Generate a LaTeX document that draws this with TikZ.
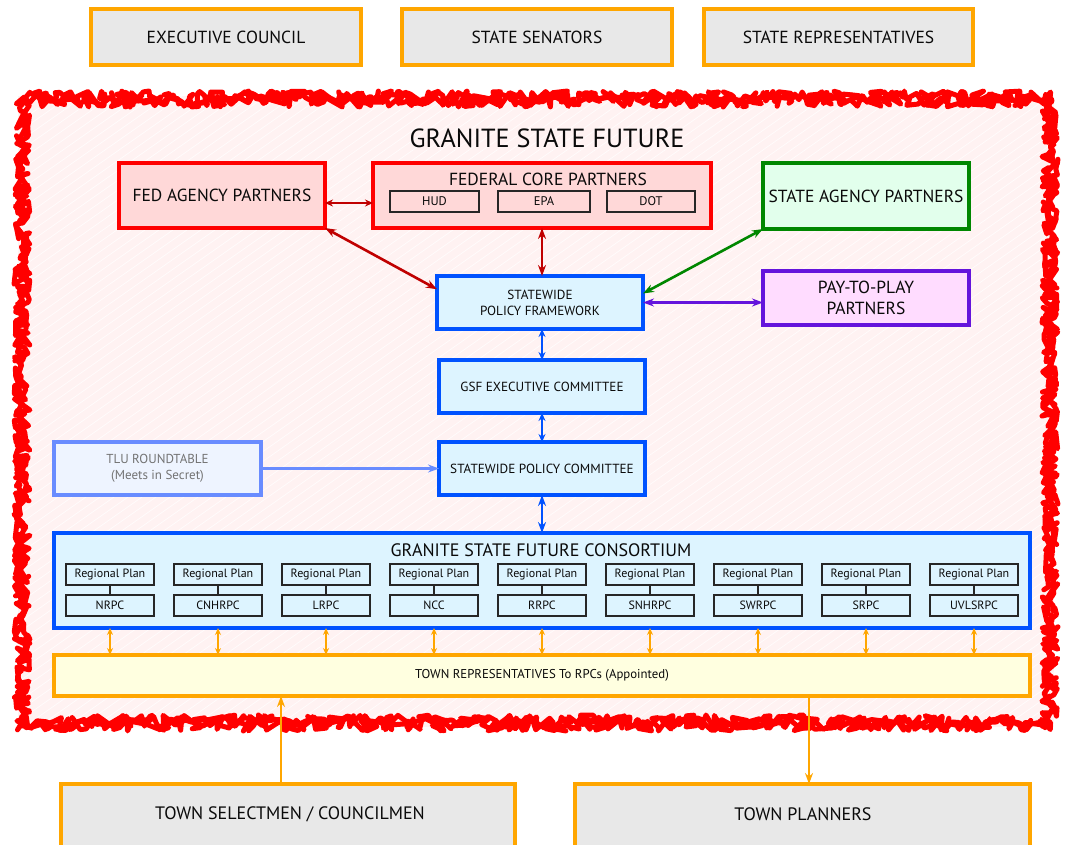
\documentclass[tikz,border=0pt]{standalone}
\usepackage{fontspec}
\setmainfont{PT Sans}
\usetikzlibrary{arrows.meta,decorations.pathmorphing,calc}
\definecolor{orgc}{RGB}{255,166,0}
\definecolor{greyc}{RGB}{232,232,232}
\definecolor{redc}{RGB}{255,0,0}
\definecolor{redfill}{RGB}{255,216,216}
\definecolor{darkred}{RGB}{192,0,0}
\definecolor{greenc}{RGB}{0,135,0}
\definecolor{greenfill}{RGB}{226,255,236}
\definecolor{purplec}{RGB}{100,20,220}
\definecolor{purplefill}{RGB}{255,220,255}
\definecolor{bluec}{RGB}{0,82,255}
\definecolor{bluefill}{RGB}{221,244,255}
\definecolor{lbluec}{RGB}{105,140,255}
\definecolor{lbluefill}{RGB}{238,244,255}
\definecolor{yelfill}{RGB}{255,255,224}
\definecolor{pinkbg}{RGB}{255,242,242}
\definecolor{txt}{RGB}{10,10,10}
\tikzset{
  base/.style={inner sep=0pt, outer sep=0pt, align=center, text=txt},
  topbox/.style={base, draw=orgc, fill=greyc, line width=3.3pt, font=\fontsize{17.5}{20}\selectfont},
  redbox/.style={base, draw=redc, fill=redfill, line width=3.3pt, font=\fontsize{17.5}{20}\selectfont},
  subbox/.style={base, draw=black!85, line width=1.5pt, font=\fontsize{12.5}{14}\selectfont},
  greenbox/.style={base, draw=greenc, fill=greenfill, line width=3.3pt, font=\fontsize{17.5}{20}\selectfont},
  purplebox/.style={base, draw=purplec, fill=purplefill, line width=3.3pt, font=\fontsize{17.5}{21}\selectfont},
  bluebox/.style={base, draw=bluec, fill=bluefill, line width=3.3pt, font=\fontsize{13.2}{16}\selectfont},
  tlubox/.style={base, draw=lbluec, fill=lbluefill, line width=3.3pt, text=black!55, font=\fontsize{13}{16}\selectfont},
  rpbox/.style={base, draw=black!85, line width=1.5pt, fill=bluefill, font=\fontsize{12}{13}\selectfont},
  yelbox/.style={base, draw=orgc, fill=yelfill, line width=3.3pt, font=\fontsize{12.8}{13}\selectfont},
  btip/.tip={Stealth[length=11pt,width=8pt]},
  stip/.tip={Stealth[length=8pt,width=7pt]},
  otip/.tip={Stealth[length=7pt,width=6pt]},
  conn/.style={line width=2.6pt},
  scrib/.style={redc, line width=5pt, line join=round, line cap=round,
    decorate, decoration={random steps, segment length=3pt, amplitude=8pt}},
}
\begin{document}
\begin{tikzpicture}[x=1pt,y=-1pt]
\useasboundingbox (0,0) rectangle (1067,844);
% background area
\fill[pinkbg] (18,96) rectangle (1054,727);
\begin{scope}
  \clip (18,96) rectangle (1054,727);
  \foreach \i in {-900,-886,...,1060}
    \draw[white, line width=0.7pt, opacity=0.8] (\i,727) -- (\i+900,96);
\end{scope}
% scribble border
\pgfmathsetseed{7}
\draw[scrib] (22,99) -- (1050,99) -- (1050,723) -- (22,723) -- cycle;
\pgfmathsetseed{23}
\draw[scrib] (22,99) -- (1050,99) -- (1050,723) -- (22,723) -- cycle;

% top boxes
\node[topbox, minimum width=270, minimum height=56] (ec) at (226,37) {EXECUTIVE COUNCIL};
\node[topbox, minimum width=270, minimum height=56] (ss) at (537,37) {STATE SENATORS};
\node[topbox, minimum width=269, minimum height=56] (sr) at (838.5,37) {STATE REPRESENTATIVES};

% title
\node[base, font=\fontsize{26.2}{30}\selectfont] (title) at (547,138) {GRANITE STATE FUTURE};

% federal
\node[redbox, minimum width=206, minimum height=65] (fa) at (222,195.5) {FED AGENCY PARTNERS};
\node[redbox, minimum width=338, minimum height=65] (fc) at (542,195.5) {};
\node[base, font=\fontsize{17.5}{20}\selectfont] (fct) at (548,179) {FEDERAL CORE PARTNERS};
\node[subbox, minimum width=89, minimum height=21] (hud) at (434.5,201.5) {HUD};
\node[subbox, minimum width=92, minimum height=21] (epa) at (544,201.5) {EPA};
\node[subbox, minimum width=88, minimum height=21] (dot) at (651,201.5) {DOT};

% state / pay-to-play
\node[greenbox, minimum width=206, minimum height=66] (sa) at (866,196) {STATE AGENCY PARTNERS};
\node[purplebox, minimum width=206, minimum height=54] (pp) at (866,298) {PAY-TO-PLAY\\PARTNERS};

% central column
\node[bluebox, minimum width=206, minimum height=53] (sf) at (540,302.5) {STATEWIDE\\POLICY FRAMEWORK};
\node[bluebox, minimum width=206, minimum height=53] (gsf) at (542,386.5) {GSF EXECUTIVE COMMITTEE};
\node[bluebox, minimum width=206, minimum height=53] (spc) at (542,468.5) {STATEWIDE POLICY COMMITTEE};
\node[tlubox, minimum width=207, minimum height=53] (tlu) at (157.5,468.5) {TLU ROUNDTABLE\\(Meets in Secret)};

% consortium
\node[bluebox, minimum width=976, minimum height=95] (con) at (542,580.5) {};
\node[base, font=\fontsize{18}{20}\selectfont] (cont) at (541,550) {GRANITE STATE FUTURE CONSORTIUM};
\foreach \n [count=\k from 0] in {NRPC,CNHRPC,LRPC,NCC,RRPC,SNHRPC,SWRPC,SRPC,UVLSRPC} {
  \node[rpbox, minimum width=88, minimum height=21] (rp\k) at (110+108*\k,574.5) {Regional Plan};
  \node[rpbox, minimum width=88, minimum height=21] (rc\k) at (110+108*\k,605.5) {\n};
  \draw[black!85, line width=1.5pt] (rp\k.south) -- (rc\k.north);
}

% town reps
\node[yelbox, minimum width=976, minimum height=41] (tr) at (542,675.5) {TOWN REPRESENTATIVES To RPCs (Appointed)};
\foreach \k in {0,...,8}
  \draw[orgc, line width=2pt, {otip}-{otip}] (rp\k |- con.south) -- (rp\k |- tr.north);

% bottom boxes
\node[topbox, minimum width=454, minimum height=70, anchor=north] (ts) at (288,784) {};
\node[base, font=\fontsize{18}{20}\selectfont] (tst) at (290,814) {TOWN SELECTMEN / COUNCILMEN};
\node[topbox, minimum width=455, minimum height=70, anchor=north] (tp) at (802.5,784) {};
\node[base, font=\fontsize{18}{20}\selectfont] (tpt) at (803,814) {TOWN PLANNERS};
\coordinate (sx) at (281,0);
\coordinate (px) at (809,0);
\draw[orgc, line width=2.4pt, -{btip}] (ts.north -| sx) -- (tr.south -| sx);
\draw[orgc, line width=2.4pt, -{btip}] (tr.south -| px) -- (tp.north -| px);

% connectors
\draw[darkred, line width=2.2pt, {stip}-{stip}] (fa.east |- 0,203) -- (fc.west |- 0,203);
\draw[darkred, conn, {btip}-{btip}] (fa.south east) -- ($(sf.north west)!0.25!(sf.south west)$);
\draw[darkred, conn, {btip}-{btip}] (fc.south) -- (fc.south |- sf.north);
\draw[greenc, conn, {btip}-{btip}] (sa.south west) -- ($(sf.north east)!0.33!(sf.south east)$);
\draw[purplec, conn, {btip}-{btip}] (sf.east) -- (pp.west |- sf.east);
\draw[bluec, conn, {stip}-{stip}] (gsf.north |- sf.south) -- (gsf.north);
\draw[bluec, conn, {stip}-{stip}] (gsf.south) -- (spc.north);
\draw[bluec, conn, {btip}-{btip}] (spc.south) -- (con.north);
\draw[lbluec, conn, -{btip}] (tlu.east) -- (spc.west);
\end{tikzpicture}
\end{document}
